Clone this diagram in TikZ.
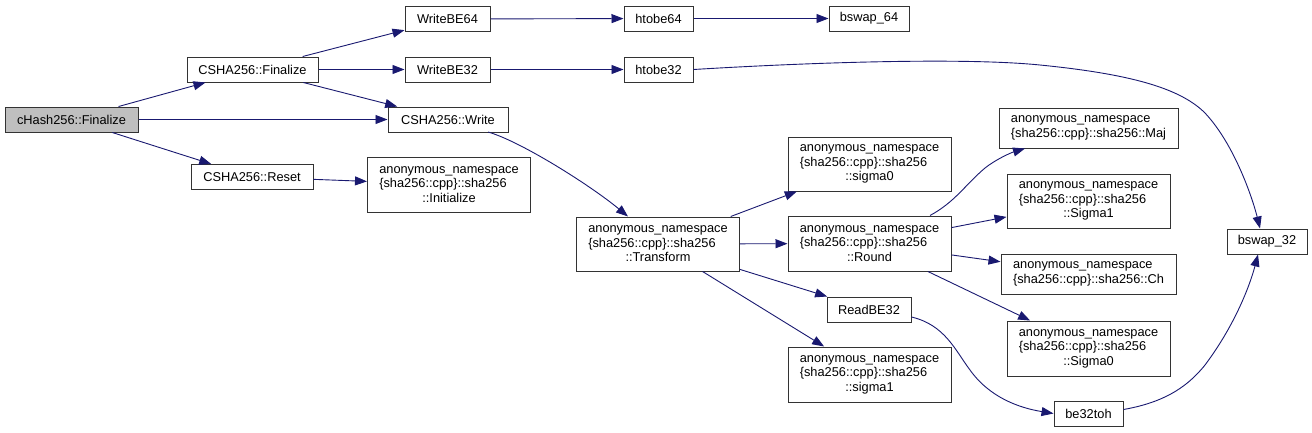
\documentclass[tikz,border=0pt]{standalone}
\usepackage{fontspec}
\setmainfont{Liberation Sans}
\usetikzlibrary{arrows.meta}

\definecolor{edgeblue}{HTML}{191970}
% second line of a three line label, left aligned under the first
\newcommand{\nsline}[1]{\rlap{#1}\phantom{anonymous\_namespace}}

\begin{document}
\begin{tikzpicture}[
        x=1pt, y=-1pt,
        func/.style={
            rectangle, draw=black!80, fill=white, line width=1pt,
            inner sep=0pt, align=center, minimum height=25pt,
            font=\fontsize{12.8}{14.5}\selectfont
        },
        root/.style={func, fill=black!25},
        nsbox/.style={func, minimum width=163pt, minimum height=55pt},
        nsflat/.style={func, align=left, minimum height=40pt},
        call/.style={-{Triangle[length=12pt,width=9pt]}, draw=edgeblue, line width=0.9pt}
    ]
    \useasboundingbox (0,0) rectangle (1312,432);

    % Callers
    \node[root, minimum width=133pt] (chash) at (71.5,119.5) {cHash256::Finalize};
    \node[func, minimum width=131pt] (fin) at (252.5,69.5) {CSHA256::Finalize};
    \node[func, minimum width=122pt] (reset) at (252,177) {CSHA256::Reset};
    \node[func, minimum width=120pt] (write) at (448,119.5) {CSHA256::Write};
    \node[func, minimum width=85pt] (wbe64) at (447.5,19) {WriteBE64};
    \node[func, minimum width=85pt] (wbe32) at (447.5,69.5) {WriteBE32};
    \node[nsbox] (init) at (449,184.5) {anonymous\_namespace\\\nsline{\{sha256::cpp\}::sha256}\\::Initialize};

    % Byte order helpers
    \node[func, minimum width=69pt] (htobe64) at (658.5,18.5) {htobe64};
    \node[func, minimum width=69pt] (htobe32) at (658.5,69.5) {htobe32};
    \node[func, minimum width=80pt] (bswap64) at (869,18.5) {bswap\_64};
    \node[func, minimum width=84pt] (readbe32) at (869,309.5) {ReadBE32};
    \node[func, minimum width=69pt] (be32toh) at (1088.5,413.5) {be32toh};
    \node[func, minimum width=80pt] (bswap32) at (1267,241.5) {bswap\_32};

    % Compression
    \node[nsbox, minimum height=54pt] (transform) at (658,244) {anonymous\_namespace\\\nsline{\{sha256::cpp\}::sha256}\\::Transform};
    \node[nsbox, minimum height=54pt] (sigma0) at (869.5,164) {anonymous\_namespace\\\nsline{\{sha256::cpp\}::sha256}\\::sigma0};
    \node[nsbox] (round) at (869.5,243.5) {anonymous\_namespace\\\nsline{\{sha256::cpp\}::sha256}\\::Round};
    \node[nsbox] (sigma1) at (869.5,374.5) {anonymous\_namespace\\\nsline{\{sha256::cpp\}::sha256}\\::sigma1};
    \node[nsflat, minimum width=179pt] (maj) at (1088.5,128) {anonymous\_namespace\\\{sha256::cpp\}::sha256::Maj};
    \node[nsbox, minimum height=54pt] (bigsigma1) at (1088.5,201) {anonymous\_namespace\\\nsline{\{sha256::cpp\}::sha256}\\::Sigma1};
    \node[nsflat, minimum width=175pt] (ch) at (1088.5,274) {anonymous\_namespace\\\{sha256::cpp\}::sha256::Ch};
    \node[nsbox] (bigsigma0) at (1088.5,348.5) {anonymous\_namespace\\\nsline{\{sha256::cpp\}::sha256}\\::Sigma0};

    % Calls
    \draw[call] (chash) -- (fin);
    \draw[call] (chash) -- (write);
    \draw[call] (chash) -- (reset);
    \draw[call] (fin) -- (wbe64);
    \draw[call] (fin) -- (wbe32);
    \draw[call] (fin) -- (write);
    \draw[call] (reset) -- (init);
    \draw[call] (wbe64) -- (htobe64);
    \draw[call] (htobe64) -- (bswap64);
    \draw[call] (wbe32) -- (htobe32);
    \draw[call] (htobe32.east) .. controls (800,63) and (960,57) .. (1040,65)
        .. controls (1130,74) and (1180,88) .. (1205,113)
        .. controls (1235,145) and (1253,200) .. ([xshift=-7pt]bswap32.north);
    \draw[call] ([xshift=40pt,yshift=-12.5pt]write.center) .. controls (520,141) and (590,185) .. ([xshift=-30pt]transform.north);
    \draw[call] (transform) -- (sigma0);
    \draw[call] (transform) -- (round);
    \draw[call] (transform) -- (readbe32);
    \draw[call] (transform) -- (sigma1);
    \draw[call] ([xshift=60.5pt]round.north) .. controls (955,202) and (965,185) .. (985,168)
        .. controls (995,160) and (1010,153) .. ([xshift=-63.5pt]maj.south);
    \draw[call] (round) -- (bigsigma1);
    \draw[call] (round) -- (ch);
    \draw[call] (round) -- (bigsigma0);
    \draw[call] ([yshift=-7.5pt]readbe32.east) .. controls (945,325) and (955,350) .. (970,370)
        .. controls (990,398) and (1020,408) .. (be32toh.west);
    \draw[call] ([yshift=4pt]be32toh.east) .. controls (1160,403) and (1185,390) .. (1205,365)
        .. controls (1235,325) and (1250,285) .. ([xshift=-9pt]bswap32.south);
\end{tikzpicture}
\end{document}
